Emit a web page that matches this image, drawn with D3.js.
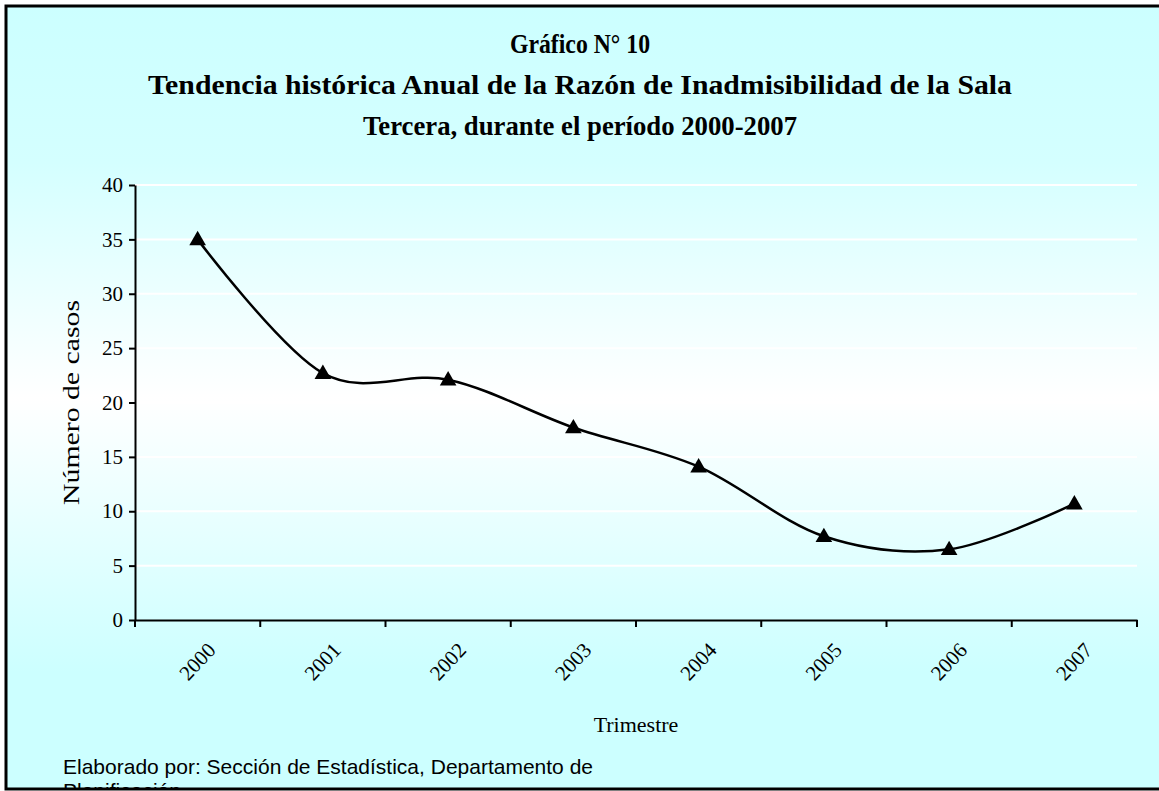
<!DOCTYPE html>
<html>
<head>
<meta charset="utf-8">
<script src="https://cdn.jsdelivr.net/npm/d3@7"></script>
<style>
  body { margin: 0; background: #fff; }
  .axis text { font-family: "Liberation Serif", "Times New Roman", serif; font-size: 21px; fill: #000; }
  .axis path, .axis line { stroke: #000; stroke-width: 2; }
</style>
</head>
<body>
<svg id="chart"></svg>
<script>
// chart data
let years = ["2000", "2001", "2002", "2003", "2004", "2005", "2006", "2007"];
let razon = [35.0, 22.7, 22.1, 17.7, 14.1, 7.7, 6.5, 10.7];
let yTicks = [0, 5, 10, 15, 20, 25, 30, 35, 40];
let titleLines = ["Gráfico N° 10",
                  "Tendencia histórica Anual de la Razón de Inadmisibilidad de la Sala",
                  "Tercera, durante el período 2000-2007"];
let footLines = ["Elaborado por: Sección de Estadística, Departamento de", "Planificación"];

let W = 1159, H = 791;
let margin = {top: 185, right: 22, bottom: 171, left: 135};

let svg = d3.select("#chart").attr("width", W).attr("height", H);

let defs = svg.append("defs");
let grad = defs.append("linearGradient")
               .attr("id", "bg").attr("x1", 0).attr("y1", 0).attr("x2", 0).attr("y2", 1);
[[0, "#ccffff"], [0.2, "#d4ffff"], [0.5, "#ffffff"], [0.85, "#ccffff"], [1, "#ccffff"]]
  .forEach(function(s) { grad.append("stop").attr("offset", s[0]).attr("stop-color", s[1]); });

defs.append("clipPath").attr("id", "frame")
    .append("rect").attr("x", 7).attr("y", 7).attr("width", W - 7).attr("height", 781);

svg.append("rect").attr("x", 5).attr("y", 5).attr("width", W - 5).attr("height", 785)
   .attr("fill", "url(#bg)");

let x = d3.scaleBand().domain(years).range([margin.left, W - margin.right]);
let y = d3.scaleLinear().domain([0, 40]).range([H - margin.bottom, margin.top]);
let cx = function(d) { return x(d) + x.bandwidth() / 2; };

// gridlines
svg.append("g").selectAll("line")
   .data(yTicks.slice(1))
   .enter().append("line")
   .attr("x1", margin.left).attr("x2", W - margin.right)
   .attr("y1", function(d) { return y(d); }).attr("y2", function(d) { return y(d); })
   .attr("stroke", "#fff").attr("stroke-width", 2);

// y axis
svg.append("g")
   .attr("class", "axis")
   .attr("transform", "translate(" + margin.left + ",0)")
   .call(d3.axisLeft(y).tickValues(yTicks).tickSize(6).tickPadding(6).tickSizeOuter(0));

// x axis: labels at category centres, ticks on boundaries
let xAxis = svg.append("g")
   .attr("class", "axis")
   .attr("transform", "translate(0," + y(0) + ")")
   .call(d3.axisBottom(x).tickSize(0).tickSizeOuter(0));
xAxis.selectAll("text")
     .attr("text-anchor", "end")
     .attr("dy", null)
     .attr("transform", "translate(17,29) rotate(-47)");
xAxis.selectAll("line.bound")
     .data(years.map(function(d) { return x(d); }).concat([x.range()[1]]))
     .enter().append("line")
     .attr("class", "bound")
     .attr("x1", function(d) { return d; }).attr("x2", function(d) { return d; })
     .attr("y1", 0).attr("y2", 7);

// smoothed line
let data = years.map(function(d, i) { return {year: d, value: razon[i]}; });
let line = d3.line()
             .curve(d3.curveCardinal.tension(0))
             .x(function(d) { return cx(d.year); })
             .y(function(d) { return y(d.value); });

svg.append("path")
   .datum(data)
   .attr("d", line)
   .attr("fill", "none")
   .attr("stroke", "#000")
   .attr("stroke-width", 2.5);

svg.selectAll("path.dot")
   .data(data)
   .enter().append("path")
   .attr("class", "dot")
   .attr("d", d3.symbol().type(d3.symbolTriangle).size(120))
   .attr("transform", function(d) { return "translate(" + cx(d.year) + "," + (y(d.value) + 1) + ")"; })
   .attr("fill", "#000");

// titles
let titleWidths = [140, 864, 434];
svg.append("g").selectAll("text")
   .data(titleLines)
   .enter().append("text")
   .attr("x", 580).attr("y", function(d, i) { return 53 + i * 41; })
   .attr("text-anchor", "middle")
   .attr("textLength", function(d, i) { return titleWidths[i]; })
   .attr("lengthAdjust", "spacingAndGlyphs")
   .style("font-family", "'Liberation Serif', 'Times New Roman', serif")
   .style("font-weight", "bold")
   .style("font-size", "28px")
   .text(function(d) { return d; });

svg.append("text")
   .attr("transform", "translate(79," + y(20) + ") rotate(-90)")
   .attr("text-anchor", "middle")
   .attr("textLength", 205)
   .attr("lengthAdjust", "spacingAndGlyphs")
   .style("font-family", "'Liberation Serif', 'Times New Roman', serif")
   .style("font-size", "23px")
   .text("Número de casos");

svg.append("text")
   .attr("x", cx("2003") + x.bandwidth() / 2).attr("y", 732)
   .attr("text-anchor", "middle")
   .style("font-family", "'Liberation Serif', 'Times New Roman', serif")
   .style("font-size", "22px")
   .text("Trimestre");

svg.append("g").attr("clip-path", "url(#frame)").selectAll("text")
   .data(footLines)
   .enter().append("text")
   .attr("x", 63).attr("y", function(d, i) { return 774 + i * 24; })
   .style("font-family", "'Liberation Sans', Arial, sans-serif")
   .style("font-size", "21px")
   .text(function(d) { return d; });

// frame (no right edge, cropped)
svg.append("path")
   .attr("d", "M" + W + ",6 H6 V789 H" + W)
   .attr("fill", "none")
   .attr("stroke", "#000")
   .attr("stroke-width", 3);
</script>
</body>
</html>
